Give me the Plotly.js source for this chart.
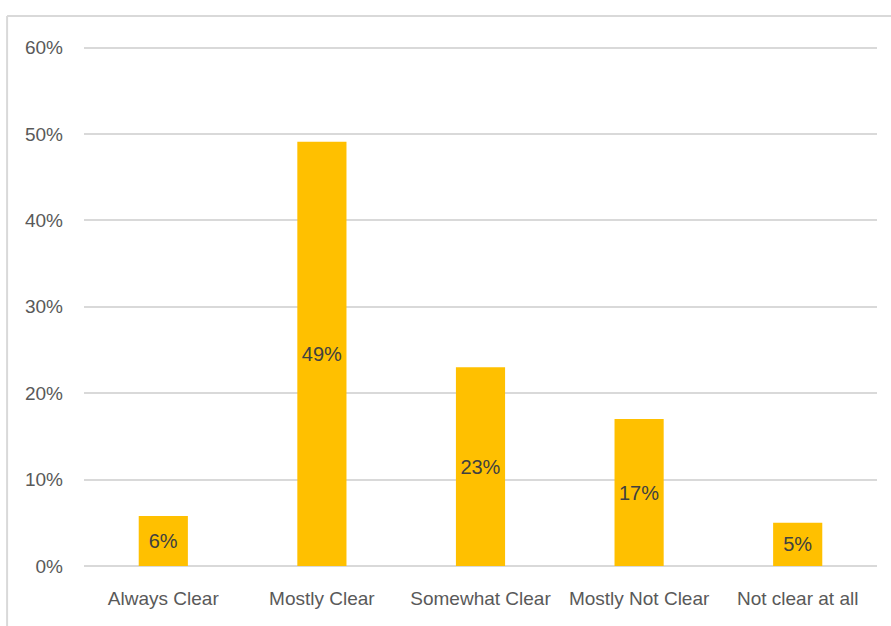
<!DOCTYPE html>
<html>
<head>
<meta charset="utf-8">
<script src="https://cdn.plot.ly/plotly-3.0.1.min.js"></script>
<style>html,body{margin:0;padding:0;background:#fff;}#chart{width:891px;height:626px;}</style>
</head>
<body>
<div id="chart"></div>
<script>
const categories = ["Always Clear", "Mostly Clear", "Somewhat Clear", "Mostly Not Clear", "Not clear at all"];
const values = [0.058, 0.491, 0.23, 0.17, 0.05];
const yTicks = [0, 0.1, 0.2, 0.3, 0.4, 0.5, 0.6];
const yTickLabels = ["0%", "10%", "20%", "30%", "40%", "50%", "60%"];

const trace = {
  type: "bar",
  x: categories,
  y: values,
  marker: {color: "#FFC000"},
  text: values.map(v => Math.round(v * 100) + "%"),
  textposition: "inside",
  insidetextanchor: "middle",
  textangle: 0,
  textfont: {family: "Liberation Sans, Arial, sans-serif", size: 20, color: "#404040"},
  hoverinfo: "none"
};

const layout = {
  width: 891, height: 626,
  margin: {l: 84, r: 14, t: 45, b: 60},
  paper_bgcolor: "#ffffff", plot_bgcolor: "#ffffff",
  bargap: 0.69,
  showlegend: false,
  font: {family: "Liberation Sans, Arial, sans-serif", size: 19, color: "#595959"},
  xaxis: {
    type: "category",
    showgrid: false, zeroline: false, showline: false,
    ticks: "", ticklabelstandoff: 19,
    tickfont: {size: 19, color: "#595959"}
  },
  yaxis: {
    range: [0, 0.603],
    tickvals: yTicks, ticktext: yTickLabels,
    showgrid: true, gridcolor: "#d9d9d9", gridwidth: 2,
    zeroline: true, zerolinecolor: "#d9d9d9", zerolinewidth: 2,
    showline: false, ticks: "", ticklabelstandoff: 20,
    tickfont: {size: 19, color: "#595959"}
  },
  shapes: [
    {type: "line", xref: "paper", yref: "paper", x0: -0.097, x1: 1.02, y0: 1.0557, y1: 1.0557, line: {color: "#d9d9d9", width: 2}},
    {type: "line", xref: "paper", yref: "paper", x0: -0.097, x1: -0.097, y0: 1.0557, y1: -0.2, line: {color: "#d9d9d9", width: 2}}
  ]
};

Plotly.newPlot("chart", [trace], layout, {displayModeBar: false, staticPlot: true});
</script>
</body>
</html>
